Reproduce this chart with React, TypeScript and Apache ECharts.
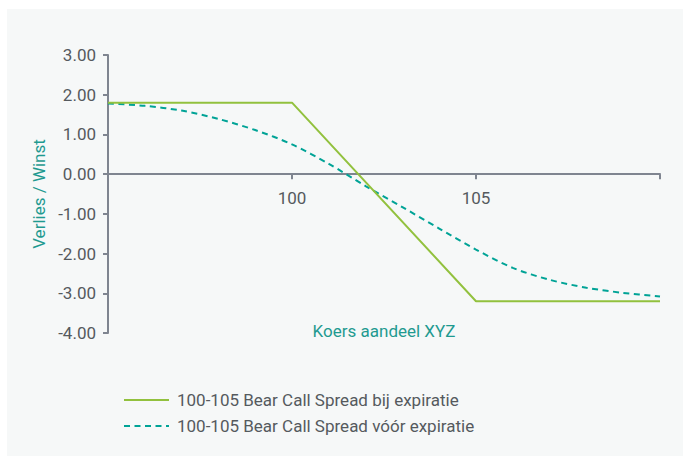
import React, { useEffect, useRef } from "react";
import * as echarts from "echarts";

const xExpiry = [95, 100, 105, 110];
const yExpiry = [1.8, 1.8, -3.2, -3.2];

const xBefore = [95, 96, 97, 98, 99, 100, 101, 102, 103, 104, 105, 106, 107, 108, 109, 110];
const yBefore = [1.78, 1.72, 1.6, 1.39, 1.11, 0.75, 0.26, -0.3, -0.83, -1.37, -1.9, -2.36, -2.66, -2.86, -2.99, -3.08];

const seriesNames = [
  "100-105 Bear Call Spread bij expiratie",
  "100-105 Bear Call Spread vóór expiratie",
];
const xLabels = [100, 105];
const yAxisName = "Verlies / Winst";
const xAxisName = "Koers aandeel XYZ";

const FONT = "Roboto, 'Liberation Sans', sans-serif";
const GREEN = "#92c13e";
const TEAL = "#00a396";
const NAME_TEAL = "#1f9a90";
const AXIS = "#7f8590";
const LABEL = "#555a5e";

export default function App() {
  const ref = useRef<HTMLDivElement>(null);
  useEffect(() => {
    document.body.style.margin = "0";
    const chart = echarts.init(ref.current!, undefined, { renderer: "svg" });
    chart.setOption({
      animation: false,
      backgroundColor: "#ffffff",
      textStyle: { fontFamily: FONT },
      graphic: [
        {
          type: "rect",
          z: -10,
          silent: true,
          shape: { x: 7, y: 9, width: 676, height: 447 },
          style: { fill: "#f6f8f8" },
        },
      ],
      grid: { left: 108, width: 552, top: 55, height: 278, containLabel: false, outerBoundsMode: "none" },
      legend: {
        orient: "vertical",
        left: 118,
        top: 385,
        itemWidth: 45,
        itemHeight: 14,
        itemGap: 6,
        itemStyle: { opacity: 0 },
        textStyle: { fontFamily: FONT, fontSize: 17, color: LABEL, lineHeight: 20, padding: [0, 0, 0, 3] },
        data: seriesNames,
      },
      xAxis: {
        type: "value",
        min: 95,
        max: 110,
        interval: 5,
        name: xAxisName,
        nameLocation: "middle",
        nameGap: -11,
        nameTextStyle: { color: NAME_TEAL, fontSize: 17, fontFamily: FONT, verticalAlign: "top" },
        axisLine: { onZero: true, lineStyle: { color: AXIS, width: 2 } },
        axisTick: { show: true, length: 5, lineStyle: { color: AXIS, width: 2 } },
        axisLabel: {
          color: LABEL,
          fontSize: 17,
          margin: -144,
          formatter: (v: number) => (xLabels.includes(v) ? String(v) : ""),
        },
        splitLine: { show: false },
      },
      yAxis: {
        type: "value",
        min: -4,
        max: 3,
        interval: 1,
        name: yAxisName,
        nameLocation: "middle",
        nameGap: 60,
        nameRotate: 90,
        nameTextStyle: { color: NAME_TEAL, fontSize: 17, fontFamily: FONT },
        axisLine: { show: true, onZero: false, lineStyle: { color: AXIS, width: 2 } },
        axisTick: { show: true, length: 5, lineStyle: { color: AXIS, width: 2 } },
        axisLabel: {
          color: LABEL,
          fontSize: 17,
          margin: 12,
          formatter: (v: number) => v.toFixed(2),
        },
        splitLine: { show: false },
      },
      series: [
        {
          name: seriesNames[0],
          type: "line",
          data: xExpiry.map((x, i) => [x, yExpiry[i]]),
          symbol: "none",
          lineStyle: { color: GREEN, width: 2 },
          itemStyle: { color: GREEN },
          z: 3,
        },
        {
          name: seriesNames[1],
          type: "line",
          data: xBefore.map((x, i) => [x, yBefore[i]]),
          symbol: "none",
          smooth: 0.3,
          lineStyle: { color: TEAL, width: 2, type: [6, 4.5] },
          itemStyle: { color: TEAL },
          z: 2,
        },
      ],
    });
    return () => chart.dispose();
  }, []);
  return <div ref={ref} style={{ width: 683, height: 457 }} />;
}
